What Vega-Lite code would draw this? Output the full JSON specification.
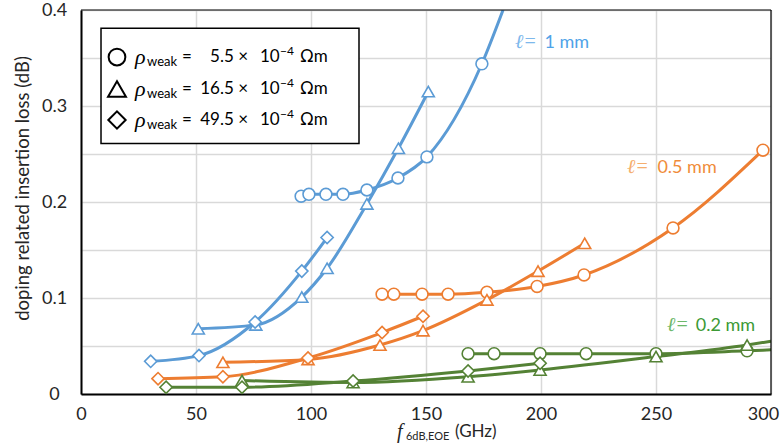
{
  "$schema": "https://vega.github.io/schema/vega-lite/v6.json",
  "width": 690,
  "height": 384,
  "autosize": {"type": "none"},
  "padding": {"left": 81, "top": 10, "right": 10, "bottom": 54},
  "background": "white",
  "config": {
    "font": "Lato",
    "view": {"stroke": "#000000", "strokeWidth": 1},
    "axis": {
      "gridColor": "#d9d9d9",
      "gridWidth": 1.5,
      "ticks": false,
      "tickSize": 0,
      "labelFlush": false,
      "domainColor": "#000000",
      "domainWidth": 2,
      "labelFont": "Lato",
      "labelFontSize": 18,
      "labelColor": "#262626",
      "titleFont": "Lato",
      "titleFontWeight": "normal",
      "titleColor": "#262626"
    }
  },
  "datasets": {
    "one": [{}],
    "pts": [
      {"x": 95.7, "y": 0.206, "l": "1", "r": "5.5", "k": "m"},
      {"x": 99.1, "y": 0.208, "l": "1", "r": "5.5", "k": "m"},
      {"x": 106.5, "y": 0.208, "l": "1", "r": "5.5", "k": "m"},
      {"x": 113.9, "y": 0.208, "l": "1", "r": "5.5", "k": "m"},
      {"x": 124.3, "y": 0.2125, "l": "1", "r": "5.5", "k": "m"},
      {"x": 137.8, "y": 0.225, "l": "1", "r": "5.5", "k": "m"},
      {"x": 150.4, "y": 0.247, "l": "1", "r": "5.5", "k": "m"},
      {"x": 174.3, "y": 0.344, "l": "1", "r": "5.5", "k": "m"},
      {"x": 183.5, "y": 0.4, "l": "1", "r": "5.5", "k": "f"},
      {"x": 51, "y": 0.068, "l": "1", "r": "16.5", "k": "m"},
      {"x": 76, "y": 0.072, "l": "1", "r": "16.5", "k": "m"},
      {"x": 96, "y": 0.101, "l": "1", "r": "16.5", "k": "m"},
      {"x": 107, "y": 0.131, "l": "1", "r": "16.5", "k": "m"},
      {"x": 124.3, "y": 0.198, "l": "1", "r": "16.5", "k": "m"},
      {"x": 138, "y": 0.256, "l": "1", "r": "16.5", "k": "m"},
      {"x": 151, "y": 0.315, "l": "1", "r": "16.5", "k": "m"},
      {"x": 30.3, "y": 0.034, "l": "1", "r": "49.5", "k": "m"},
      {"x": 51.3, "y": 0.04, "l": "1", "r": "49.5", "k": "m"},
      {"x": 75.7, "y": 0.075, "l": "1", "r": "49.5", "k": "m"},
      {"x": 96, "y": 0.128, "l": "1", "r": "49.5", "k": "m"},
      {"x": 107, "y": 0.163, "l": "1", "r": "49.5", "k": "m"},
      {"x": 130.9, "y": 0.104, "l": "0.5", "r": "5.5", "k": "m"},
      {"x": 136, "y": 0.104, "l": "0.5", "r": "5.5", "k": "m"},
      {"x": 148.3, "y": 0.104, "l": "0.5", "r": "5.5", "k": "m"},
      {"x": 159.6, "y": 0.104, "l": "0.5", "r": "5.5", "k": "m"},
      {"x": 176.5, "y": 0.106, "l": "0.5", "r": "5.5", "k": "m"},
      {"x": 198.3, "y": 0.112, "l": "0.5", "r": "5.5", "k": "m"},
      {"x": 218.7, "y": 0.124, "l": "0.5", "r": "5.5", "k": "m"},
      {"x": 257.4, "y": 0.173, "l": "0.5", "r": "5.5", "k": "m"},
      {"x": 296.5, "y": 0.254, "l": "0.5", "r": "5.5", "k": "m"},
      {"x": 61.7, "y": 0.033, "l": "0.5", "r": "16.5", "k": "m"},
      {"x": 98.7, "y": 0.036, "l": "0.5", "r": "16.5", "k": "m"},
      {"x": 130, "y": 0.051, "l": "0.5", "r": "16.5", "k": "m"},
      {"x": 148.7, "y": 0.066, "l": "0.5", "r": "16.5", "k": "m"},
      {"x": 176.5, "y": 0.098, "l": "0.5", "r": "16.5", "k": "m"},
      {"x": 198.7, "y": 0.128, "l": "0.5", "r": "16.5", "k": "m"},
      {"x": 219, "y": 0.157, "l": "0.5", "r": "16.5", "k": "m"},
      {"x": 33.5, "y": 0.016, "l": "0.5", "r": "49.5", "k": "m"},
      {"x": 61.7, "y": 0.018, "l": "0.5", "r": "49.5", "k": "m"},
      {"x": 98.7, "y": 0.0375, "l": "0.5", "r": "49.5", "k": "m"},
      {"x": 130.9, "y": 0.064, "l": "0.5", "r": "49.5", "k": "m"},
      {"x": 148.7, "y": 0.081, "l": "0.5", "r": "49.5", "k": "m"},
      {"x": 168.3, "y": 0.042, "l": "0.2", "r": "5.5", "k": "m"},
      {"x": 179.6, "y": 0.042, "l": "0.2", "r": "5.5", "k": "m"},
      {"x": 199.6, "y": 0.042, "l": "0.2", "r": "5.5", "k": "m"},
      {"x": 219.6, "y": 0.042, "l": "0.2", "r": "5.5", "k": "m"},
      {"x": 250, "y": 0.042, "l": "0.2", "r": "5.5", "k": "m"},
      {"x": 289.6, "y": 0.045, "l": "0.2", "r": "5.5", "k": "m"},
      {"x": 300, "y": 0.046, "l": "0.2", "r": "5.5", "k": "f"},
      {"x": 70, "y": 0.014, "l": "0.2", "r": "16.5", "k": "m"},
      {"x": 118.3, "y": 0.012, "l": "0.2", "r": "16.5", "k": "m"},
      {"x": 168.3, "y": 0.018, "l": "0.2", "r": "16.5", "k": "m"},
      {"x": 199.6, "y": 0.025, "l": "0.2", "r": "16.5", "k": "m"},
      {"x": 250, "y": 0.039, "l": "0.2", "r": "16.5", "k": "m"},
      {"x": 289.6, "y": 0.051, "l": "0.2", "r": "16.5", "k": "m"},
      {"x": 300, "y": 0.055, "l": "0.2", "r": "16.5", "k": "f"},
      {"x": 37, "y": 0.007, "l": "0.2", "r": "49.5", "k": "m"},
      {"x": 70, "y": 0.007, "l": "0.2", "r": "49.5", "k": "m"},
      {"x": 118.3, "y": 0.0135, "l": "0.2", "r": "49.5", "k": "m"},
      {"x": 168.3, "y": 0.024, "l": "0.2", "r": "49.5", "k": "m"},
      {"x": 199.6, "y": 0.032, "l": "0.2", "r": "49.5", "k": "m"}
    ]
  },
  "layer": [
    {
      "data": {"name": "pts"},
      "mark": {"type": "line", "strokeWidth": 3, "interpolate": "monotone", "clip": true},
      "encoding": {
        "x": {"field": "x", "type": "quantitative", "scale": {"domain": [0, 300], "nice": false},
          "axis": {"values": [0, 50, 100, 150, 200, 250, 300], "grid": true, "title": null, "labelPadding": 11,
            "labelOffset": {"condition": {"test": "datum.value == 300", "value": -8}, "value": 0}}},
        "y": {"field": "y", "type": "quantitative", "scale": {"domain": [0, 0.4], "nice": false},
          "axis": {"values": [0, 0.05, 0.1, 0.15, 0.2, 0.25, 0.3, 0.35, 0.4], "grid": true,
            "labelExpr": "round(datum.value * 20) % 2 == 0 ? (datum.value == 0 ? '0' : format(datum.value, '.1f')) : ''",
            "labelAlign": "center", "labelBaseline": "middle", "labelPadding": 27,
            "title": "doping related insertion loss (dB)", "titleFontSize": 18.5,
            "titleX": -59, "titleY": 178, "titleAlign": "center", "titleBaseline": "middle", "titleAngle": -90}},
        "color": {"field": "l", "type": "nominal", "scale": {"domain": ["1", "0.5", "0.2"], "range": ["#5B9BD5", "#ED7D31", "#548235"]}, "legend": null},
        "detail": {"field": "r", "type": "nominal"}
      }
    },
    {
      "data": {"name": "pts"},
      "transform": [{"filter": "datum.k == 'm'"}],
      "mark": {"type": "point", "filled": false, "fill": "white", "fillOpacity": 1, "strokeWidth": 1.6, "opacity": 1},
      "encoding": {
        "x": {"field": "x", "type": "quantitative"},
        "y": {"field": "y", "type": "quantitative"},
        "color": {"field": "l", "type": "nominal", "legend": null},
        "shape": {"field": "r", "type": "nominal", "scale": {"domain": ["5.5", "16.5", "49.5"], "range": ["circle", "triangle-up", "diamond"]}, "legend": null},
        "size": {"field": "r", "type": "nominal", "scale": {"domain": ["5.5", "16.5", "49.5"], "range": [140, 150, 120]}, "legend": null}
      }
    },
    {
      "data": {"name": "one"},
      "mark": {"type": "rule", "stroke": "#000000", "strokeWidth": 1.2},
      "encoding": {"x": {"datum": 300, "type": "quantitative"}}
    },
    {
      "data": {"name": "one"},
      "mark": {"type": "rule", "stroke": "#000000", "strokeWidth": 1.2},
      "encoding": {"y": {"datum": 0.4, "type": "quantitative"}}
    },
    {
      "data": {"name": "one"},
      "mark": {"type": "rect", "fill": "white", "stroke": "#000000", "strokeWidth": 1.5},
      "encoding": {
        "x": {"datum": 8.7, "type": "quantitative"},
        "x2": {"datum": 120.87},
        "y": {"datum": 0.381, "type": "quantitative"},
        "y2": {"datum": 0.261}
      }
    },
    {
      "data": {"name": "one"},
      "mark": {"type": "point", "shape": "circle", "filled": false, "stroke": "#000000", "strokeWidth": 2, "size": 280, "opacity": 1},
      "encoding": {"x": {"datum": 15.65, "type": "quantitative"}, "y": {"datum": 0.351, "type": "quantitative"}}
    },
    {
      "data": {"name": "one"},
      "mark": {"type": "point", "shape": "triangle-up", "filled": false, "stroke": "#000000", "strokeWidth": 2, "size": 320, "opacity": 1},
      "encoding": {"x": {"datum": 15.65, "type": "quantitative"}, "y": {"datum": 0.3177, "type": "quantitative"}}
    },
    {
      "data": {"name": "one"},
      "mark": {"type": "point", "shape": "diamond", "filled": false, "stroke": "#000000", "strokeWidth": 2, "size": 300, "opacity": 1},
      "encoding": {"x": {"datum": 15.65, "type": "quantitative"}, "y": {"datum": 0.2854, "type": "quantitative"}}
    },
    {
      "data": {"name": "one"},
      "mark": {"type": "text", "font": "Liberation Serif", "fontStyle": "italic", "fontSize": 22, "align": "left", "baseline": "middle", "lineHeight": 31.5, "color": "#000000"},
      "encoding": {"x": {"datum": 23.48, "type": "quantitative"}, "y": {"datum": 0.351, "type": "quantitative"}, "text": {"value": ["ρ", "ρ", "ρ"]}}
    },
    {
      "data": {"name": "one"},
      "mark": {"type": "text", "fontSize": 13, "align": "left", "baseline": "middle", "lineHeight": 31.5, "dy": 5, "color": "#000000"},
      "encoding": {"x": {"datum": 28.7, "type": "quantitative"}, "y": {"datum": 0.351, "type": "quantitative"}, "text": {"value": ["weak", "weak", "weak"]}}
    },
    {
      "data": {"name": "one"},
      "mark": {"type": "text", "fontSize": 17, "align": "left", "baseline": "middle", "lineHeight": 31.5, "color": "#000000"},
      "encoding": {"x": {"datum": 43.91, "type": "quantitative"}, "y": {"datum": 0.351, "type": "quantitative"}, "text": {"value": ["=", "=", "="]}}
    },
    {
      "data": {"name": "one"},
      "mark": {"type": "text", "fontSize": 17, "align": "right", "baseline": "middle", "lineHeight": 31.5, "color": "#000000"},
      "encoding": {"x": {"datum": 72.61, "type": "quantitative"}, "y": {"datum": 0.351, "type": "quantitative"}, "text": {"value": ["5.5 ×", "16.5 ×", "49.5 ×"]}}
    },
    {
      "data": {"name": "one"},
      "mark": {"type": "text", "fontSize": 17, "align": "left", "baseline": "middle", "lineHeight": 31.5, "color": "#000000"},
      "encoding": {"x": {"datum": 77.83, "type": "quantitative"}, "y": {"datum": 0.351, "type": "quantitative"}, "text": {"value": ["10", "10", "10"]}}
    },
    {
      "data": {"name": "one"},
      "mark": {"type": "text", "fontSize": 12, "align": "left", "baseline": "middle", "lineHeight": 31.5, "dy": -6, "color": "#000000"},
      "encoding": {"x": {"datum": 86.52, "type": "quantitative"}, "y": {"datum": 0.351, "type": "quantitative"}, "text": {"value": ["−4", "−4", "−4"]}}
    },
    {
      "data": {"name": "one"},
      "mark": {"type": "text", "fontSize": 17, "align": "left", "baseline": "middle", "lineHeight": 31.5, "color": "#000000"},
      "encoding": {"x": {"datum": 95.22, "type": "quantitative"}, "y": {"datum": 0.351, "type": "quantitative"}, "text": {"value": ["Ωm", "Ωm", "Ωm"]}}
    },
    {
      "data": {"name": "one"},
      "mark": {"type": "text", "font": "Liberation Serif", "fontStyle": "italic", "fontSize": 20, "align": "left", "baseline": "alphabetic", "color": "#7DB8EC"},
      "encoding": {"x": {"datum": 188.7, "type": "quantitative"}, "y": {"datum": 0.3607, "type": "quantitative"}, "text": {"value": "ℓ="}}
    },
    {
      "data": {"name": "one"},
      "mark": {"type": "text", "fontSize": 18, "align": "left", "baseline": "alphabetic", "color": "#4FA3E8"},
      "encoding": {"x": {"datum": 201.5, "type": "quantitative"}, "y": {"datum": 0.3607, "type": "quantitative"}, "text": {"value": "1 mm"}}
    },
    {
      "data": {"name": "one"},
      "mark": {"type": "text", "font": "Liberation Serif", "fontStyle": "italic", "fontSize": 20, "align": "left", "baseline": "alphabetic", "color": "#F5AE6E"},
      "encoding": {"x": {"datum": 237.4, "type": "quantitative"}, "y": {"datum": 0.2299, "type": "quantitative"}, "text": {"value": "ℓ="}}
    },
    {
      "data": {"name": "one"},
      "mark": {"type": "text", "fontSize": 18, "align": "left", "baseline": "alphabetic", "color": "#F08C3A"},
      "encoding": {"x": {"datum": 250.6, "type": "quantitative"}, "y": {"datum": 0.2299, "type": "quantitative"}, "text": {"value": "0.5 mm"}}
    },
    {
      "data": {"name": "one"},
      "mark": {"type": "text", "font": "Liberation Serif", "fontStyle": "italic", "fontSize": 20, "align": "left", "baseline": "alphabetic", "color": "#6CB86A"},
      "encoding": {"x": {"datum": 254.8, "type": "quantitative"}, "y": {"datum": 0.0659, "type": "quantitative"}, "text": {"value": "ℓ="}}
    },
    {
      "data": {"name": "one"},
      "mark": {"type": "text", "fontSize": 18, "align": "left", "baseline": "alphabetic", "color": "#3C9A35"},
      "encoding": {"x": {"datum": 267.3, "type": "quantitative"}, "y": {"datum": 0.0659, "type": "quantitative"}, "text": {"value": "0.2 mm"}}
    },
    {
      "data": {"name": "one"},
      "mark": {"type": "text", "font": "Liberation Serif", "fontStyle": "italic", "fontSize": 20, "align": "left", "baseline": "alphabetic", "color": "#262626"},
      "encoding": {"x": {"datum": 137.4, "type": "quantitative"}, "y": {"datum": -0.0458, "type": "quantitative"}, "text": {"value": "f"}}
    },
    {
      "data": {"name": "one"},
      "mark": {"type": "text", "fontSize": 11, "align": "left", "baseline": "alphabetic", "color": "#262626"},
      "encoding": {"x": {"datum": 141.3, "type": "quantitative"}, "y": {"datum": -0.0479, "type": "quantitative"}, "text": {"value": "6dB,EOE"}}
    },
    {
      "data": {"name": "one"},
      "mark": {"type": "text", "fontSize": 17, "align": "left", "baseline": "alphabetic", "color": "#262626"},
      "encoding": {"x": {"datum": 162.6, "type": "quantitative"}, "y": {"datum": -0.0448, "type": "quantitative"}, "text": {"value": "(GHz)"}}
    }
  ]
}
